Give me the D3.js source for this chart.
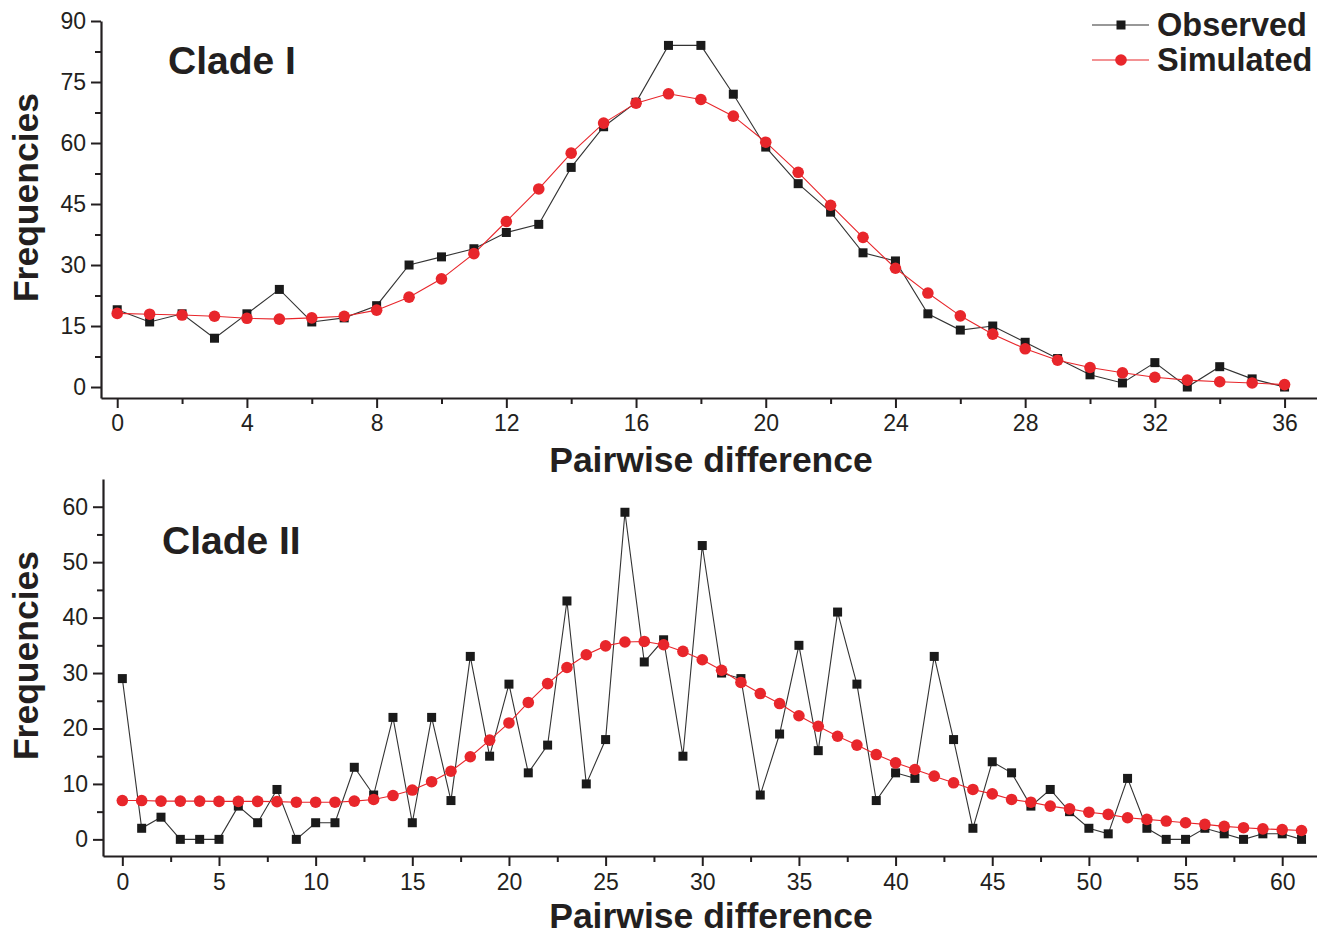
<!DOCTYPE html>
<html>
<head>
<meta charset="utf-8">
<script src="https://cdn.jsdelivr.net/npm/d3@7"></script>
<style>
  body { margin: 0; background: #fff; }
  svg { display: block; font-family: "Liberation Sans", Arial, sans-serif; }
  .axis path, .axis line { stroke: #231f20; }
  .axis text { fill: #231f20; font-size: 23px; font-family: "Liberation Sans", Arial, sans-serif; }
</style>
</head>
<body>
<svg id="chart" width="1317" height="934"></svg>
<script>
// clade I: pairwise difference 0..36
var clade1Diff = d3.range(0, 37);
var clade1Observed = [19, 16, 18, 12, 18, 24, 16, 17, 20, 30, 32, 34, 38, 40, 54, 64, 70, 84, 84, 72,
  59, 50, 43, 33, 31, 18, 14, 15, 11, 7, 3, 1, 6, 0, 5, 2, 0];
var clade1Simulated = [18.1, 17.9, 17.7, 17.4, 16.9, 16.7, 17.0, 17.4, 18.9, 22.1, 26.6, 32.8, 40.7, 48.7,
  57.5, 64.9, 69.8, 72.1, 70.7, 66.6, 60.2, 52.8, 44.7, 36.8, 29.2, 23.1, 17.5, 13.0, 9.4, 6.6,
  4.8, 3.5, 2.4, 1.7, 1.3, 1.0, 0.6];
var clade1YTicks = [0, 15, 30, 45, 60, 75, 90];
var clade1XTicks = [0, 4, 8, 12, 16, 20, 24, 28, 32, 36];

// clade II: pairwise difference 0..61
var clade2Diff = d3.range(0, 62);
var clade2Observed = [29, 2, 4, 0, 0, 0, 6, 3, 9, 0, 3, 3, 13, 8, 22, 3, 22, 7, 33, 15,
  28, 12, 17, 43, 10, 18, 59, 32, 36, 15, 53, 30, 29, 8, 19, 35, 16, 41, 28, 7,
  12, 11, 33, 18, 2, 14, 12, 6, 9, 5, 2, 1, 11, 2, 0, 0, 2, 1, 0, 1, 1, 0];
var clade2Simulated = [7.0, 7.0, 6.9, 6.9, 6.9, 6.85, 6.85, 6.85, 6.8, 6.7, 6.7, 6.7, 6.9, 7.2, 7.9, 8.9,
  10.4, 12.3, 14.9, 17.9, 21.0, 24.7, 28.1, 31.0, 33.3, 34.9, 35.6, 35.7, 35.1, 33.9, 32.4,
  30.5, 28.3, 26.3, 24.5, 22.3, 20.4, 18.6, 17.0, 15.3, 13.8, 12.6, 11.4, 10.2, 9.0, 8.2,
  7.2, 6.7, 6.0, 5.5, 4.9, 4.5, 3.9, 3.6, 3.3, 3.0, 2.7, 2.35, 2.1, 1.9, 1.75, 1.6];
var clade2YTicks = [0, 10, 20, 30, 40, 50, 60];
var clade2XTicks = [0, 5, 10, 15, 20, 25, 30, 35, 40, 45, 50, 55, 60];

var seriesNames = ["Observed", "Simulated"];
var seriesColors = ["#1a1a1a", "#e8262b"];

var svg = d3.select("#chart");

function drawPanel(opt) {
  var x = d3.scaleLinear().domain(opt.xDomain).range([opt.left, 1317]);
  var y = d3.scaleLinear().domain(opt.yDomain).range([opt.bottom, opt.top]);
  var g = svg.append("g");

  // minor ticks halfway between labelled ones
  var xMinor = opt.xTicks.slice(0, -1).map(function(d, i) { return (d + opt.xTicks[i + 1]) / 2; });
  var last = opt.xTicks[opt.xTicks.length - 1];
  xMinor.push(last + (opt.xTicks[1] - opt.xTicks[0]) / 2);
  var yMinor = opt.yTicks.slice(0, -1).map(function(d, i) { return (d + opt.yTicks[i + 1]) / 2; });

  g.append("g").attr("class", "axis")
    .attr("transform", "translate(0," + opt.bottom + ")")
    .call(d3.axisBottom(x).tickValues(xMinor.filter(function(d) { return d < opt.xDomain[1]; }))
      .tickSize(6).tickSizeOuter(0).tickFormat(""))
    .call(function(a) { a.select(".domain").attr("stroke-width", 2.2); a.selectAll("line").attr("stroke-width", 2); });
  g.append("g").attr("class", "axis")
    .attr("transform", "translate(0," + opt.bottom + ")")
    .call(d3.axisBottom(x).tickValues(opt.xTicks).tickSize(10).tickSizeOuter(0).tickPadding(opt.xPad))
    .call(function(a) { a.select(".domain").remove(); a.selectAll("line").attr("stroke-width", 2); });

  g.append("g").attr("class", "axis")
    .attr("transform", "translate(" + opt.left + ",0)")
    .call(d3.axisLeft(y).tickValues(yMinor).tickSize(6).tickSizeOuter(0).tickFormat(""))
    .call(function(a) { a.select(".domain").attr("stroke-width", 2.2); a.selectAll("line").attr("stroke-width", 2); });
  g.append("g").attr("class", "axis")
    .attr("transform", "translate(" + opt.left + ",0)")
    .call(d3.axisLeft(y).tickValues(opt.yTicks).tickSize(10).tickSizeOuter(0).tickPadding(5))
    .call(function(a) { a.select(".domain").remove(); a.selectAll("line").attr("stroke-width", 2); });

  var line = d3.line()
    .x(function(d, i) { return x(opt.diff[i]); })
    .y(function(d) { return y(d); });

  // observed
  g.append("path").datum(opt.observed)
    .attr("fill", "none").attr("stroke", "#333").attr("stroke-width", 1.1)
    .attr("d", line);
  // simulated
  g.append("path").datum(opt.simulated)
    .attr("fill", "none").attr("stroke", seriesColors[1]).attr("stroke-width", 1.1)
    .attr("d", line);

  g.append("g").selectAll("rect").data(opt.observed).join("rect")
    .attr("x", function(d, i) { return x(opt.diff[i]) - 4.5; })
    .attr("y", function(d) { return y(d) - 4.5; })
    .attr("width", 9).attr("height", 9)
    .attr("fill", seriesColors[0]);
  g.append("g").selectAll("circle").data(opt.simulated).join("circle")
    .attr("cx", function(d, i) { return x(opt.diff[i]); })
    .attr("cy", function(d) { return y(d); })
    .attr("r", 5.8)
    .attr("fill", seriesColors[1]);

  g.append("text")
    .attr("x", opt.titleX).attr("y", opt.titleY)
    .attr("font-size", 39).attr("font-weight", "bold").attr("fill", "#231f20")
    .text(opt.title);

  g.append("text")
    .attr("transform", "translate(" + 38 + "," + ((opt.top + opt.bottom) / 2 - 12) + ") rotate(-90)")
    .attr("text-anchor", "middle")
    .attr("font-size", 35.5).attr("font-weight", "bold").attr("fill", "#231f20")
    .text("Frequencies");

  g.append("text")
    .attr("x", 711).attr("y", opt.bottom + opt.xTitleOffset)
    .attr("text-anchor", "middle")
    .attr("font-size", 35.5).attr("font-weight", "bold").attr("fill", "#231f20")
    .text("Pairwise difference");
}

drawPanel({
  diff: clade1Diff, observed: clade1Observed, simulated: clade1Simulated,
  xTicks: clade1XTicks, yTicks: clade1YTicks,
  xDomain: [-0.5, 37], yDomain: [-2.7, 90],
  left: 101, top: 21, bottom: 398,
  title: "Clade I", titleX: 168, titleY: 74, xTitleOffset: 74, xPad: 7
});

drawPanel({
  diff: clade2Diff, observed: clade2Observed, simulated: clade2Simulated,
  xTicks: clade2XTicks, yTicks: clade2YTicks,
  xDomain: [-1, 61.8], yDomain: [-3, 65],
  left: 103, top: 479, bottom: 856,
  title: "Clade II", titleX: 162, titleY: 554, xTitleOffset: 72, xPad: 8
});

// legend
var legend = svg.append("g").selectAll("g").data(seriesNames).join("g")
  .attr("transform", function(d, i) { return "translate(1092," + (25 + i * 35) + ")"; });
legend.append("line").attr("x1", 0).attr("x2", 57)
  .attr("stroke", function(d, i) { return i ? seriesColors[1] : "#333"; }).attr("stroke-width", 1.1);
legend.filter(function(d, i) { return i === 0; }).append("rect")
  .attr("x", 24.5).attr("y", -4.5).attr("width", 9).attr("height", 9).attr("fill", seriesColors[0]);
legend.filter(function(d, i) { return i === 1; }).append("circle")
  .attr("cx", 29).attr("r", 5.8).attr("fill", seriesColors[1]);
legend.append("text").attr("x", 65).attr("y", 11)
  .attr("font-size", 32.5).attr("font-weight", "bold").attr("fill", "#231f20")
  .text(function(d) { return d; });
</script>
</body>
</html>
